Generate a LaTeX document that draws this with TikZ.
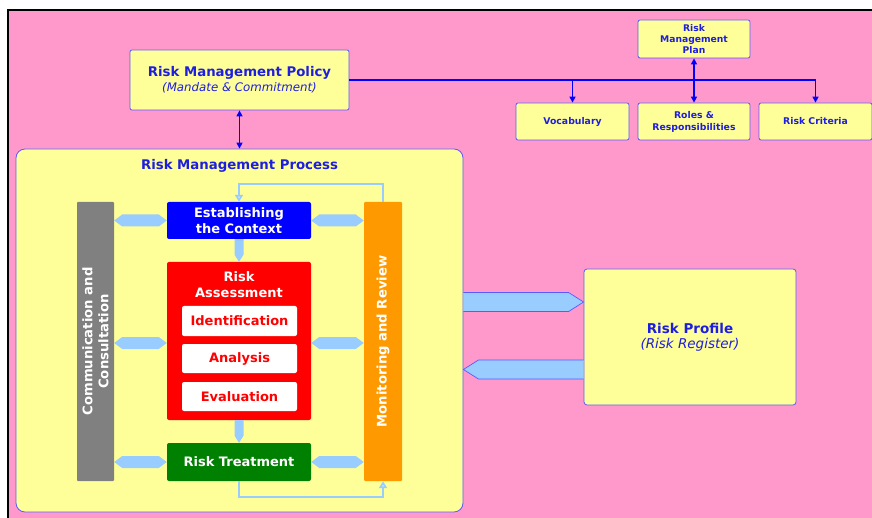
\documentclass[tikz,border=0pt]{standalone}
\usepackage{fontspec}
\setmainfont{DejaVu Sans}
\usetikzlibrary{arrows.meta,calc}
\definecolor{pinkbg}{RGB}{255,153,204}
\definecolor{pyellow}{RGB}{255,255,153}
\definecolor{tblue}{RGB}{30,30,225}
\definecolor{bblue}{RGB}{90,90,255}
\definecolor{lblue}{RGB}{153,204,255}
\definecolor{morange}{RGB}{255,153,0}
\definecolor{cgray}{RGB}{128,128,128}
\definecolor{tgreen}{RGB}{0,128,0}
\definecolor{ablue}{RGB}{0,0,255}
\newcommand\fs[2]{\fontsize{#1}{#2}\selectfont}
\newcommand\hexar[2]{\fill[lblue] (#1) -- ($(#1)+(8,-6)$) -- ($(#2)+(-8,-6)$) -- (#2) -- ($(#2)+(-8,6)$) -- ($(#1)+(8,6)$) -- cycle;}
\newcommand\downar[2]{\fill[lblue] ($(#1)+(-4.5,0)$) -- ($(#2)+(-4.5,-7)$) -- (#2) -- ($(#2)+(4.5,-7)$) -- ($(#1)+(4.5,0)$) -- cycle;}
\begin{document}
\begin{tikzpicture}[x=1pt,y=-1pt,
  ybox/.style={draw=bblue, fill=pyellow, rounded corners=2pt, line width=0.8pt, inner sep=0pt, align=center, text=tblue},
  smallbox/.style={ybox, minimum width=113pt, minimum height=37pt, font=\bfseries\fs{9.3}{12}},
  stepbox/.style={rounded corners=2pt, inner sep=0pt, align=center, text=white, font=\bfseries\fs{13}{16}, minimum width=144pt},
  subbox/.style={fill=white, rounded corners=2pt, inner sep=0pt, text=red, font=\bfseries\fs{13}{16}, minimum width=115pt},
  bar/.style={rounded corners=1pt, inner sep=0pt, minimum width=37pt, minimum height=279pt},
  bartext/.style={rotate=90, text=white, align=center, font=\bfseries\fs{13.2}{16}},
  link/.style={ablue, line width=1.4pt},
  ltip/.tip={Triangle[length=6pt,width=6pt]},
  fb/.style={lblue, line width=2pt, -{Triangle[open,length=7pt,width=8pt,fill=pyellow]}},
  bigar/.style={fill=lblue, draw=bblue, line width=0.7pt}
]
\useasboundingbox (0,0) rectangle (872,518);
% background
\fill[pinkbg] (8,10) rectangle (872,518);
\draw[black, line width=2pt] (8,518) -- (8,10) -- (872,10);

% top part
\node[ybox, minimum width=219pt, minimum height=60pt] (policy) at (239.5,80)
  {{\bfseries\fs{13.3}{16}Risk Management Policy}\\[3pt]{\itshape\fs{11.8}{16}(Mandate \& Commitment)}};
\node[smallbox, minimum width=112pt, minimum height=38pt, font=\bfseries\fs{9.2}{11}] (plan) at (694,39) {Risk\\Management\\Plan};
\node[smallbox] (vocab) at (572.5,121.5) {Vocabulary};
\node[smallbox, minimum width=112pt] (roles) at (694,121.5) {Roles \&\\Responsibilities};
\node[smallbox] (crit) at (815.5,121.5) {Risk Criteria};

\draw[link, -{ltip}] (policy.east) -| (crit.north);
\draw[link, -{ltip}] (vocab.north |- policy.east) -- (vocab.north);
\draw[link, {ltip}-{ltip}] (plan.south) -- (roles.north);

% process box
\node[ybox, rounded corners=9pt, minimum width=447pt, minimum height=363pt] (proc) at (239.5,330.5) {};
\node[text=tblue, font=\bfseries\fs{13.3}{16}] (ptitle) at (239.5,166) {Risk Management Process};
\draw[link, {ltip}-{ltip}] (policy.south) -- (proc.north -| policy.south);

% bars
\node[bar, fill=cgray] (comm) at (95.5,341.5) {};
\node[bartext] (commt) at (comm.center) {Communication and\\Consultation};
\node[bar, fill=morange, minimum width=38pt] (mon) at (383,341.5) {};
\node[bartext] (mont) at (mon.center) {Monitoring and Review};

% steps
\node[stepbox, fill=ablue, minimum height=37pt] (est) at (239,220.5) {Establishing\\the Context};
\node[stepbox, fill=red, minimum height=158pt] (assess) at (239,341) {};
\node[text=white, align=center, font=\bfseries\fs{13}{15.5}] (asst) at (239,284.5) {Risk\\Assessment};
\node[subbox, minimum height=30pt] (ident) at (239.5,321) {Identification};
\node[subbox, minimum height=29pt] (anal) at (239.5,358.5) {Analysis};
\node[subbox, minimum height=29pt] (eval) at (239.5,396.5) {Evaluation};
\node[stepbox, fill=tgreen, minimum height=38pt] (treat) at (239,462) {Risk Treatment};

% hexagonal double arrows
\coordinate (l1) at (comm.east |- est.west);
\coordinate (l2) at (comm.east |- 0,343);
\coordinate (l3) at (comm.east |- treat.west);
\coordinate (m2) at (assess.west |- 0,343);
\coordinate (n2) at (assess.east |- 0,343);
\coordinate (r1) at (mon.west |- est.east);
\coordinate (r2) at (mon.west |- 0,343);
\coordinate (r3) at (mon.west |- treat.east);
\hexar{l1}{est.west}
\hexar{l2}{m2}
\hexar{l3}{treat.west}
\hexar{est.east}{r1}
\hexar{n2}{r2}
\hexar{treat.east}{r3}

% vertical flow arrows
\downar{est.south}{assess.north}
\downar{assess.south}{treat.north}

% feedback lines
\draw[fb] (mon.north) -- ++(0,-18) -| (est.north);
\draw[fb] (treat.south) -- ++(0,16) -| (mon.south);

% risk profile
\node[ybox, rounded corners=3pt, minimum width=212pt, minimum height=136pt] (prof) at (690,337)
  {{\bfseries\fs{13.5}{16}Risk Profile}\\[3pt]{\itshape\fs{13.5}{16}(Risk Register)}};
\coordinate (u1) at ($(prof.west)+(0,-35)$);
\coordinate (u0) at (proc.east |- u1);
\coordinate (w1) at ($(prof.west)+(0,32.5)$);
\coordinate (w0) at (proc.east |- w1);
\path[bigar] ($(u0)+(0,-9.5)$) -- ($(u1)+(-15,-9.5)$) -- (u1) -- ($(u1)+(-15,9.5)$) -- ($(u0)+(0,9.5)$);
\path[bigar] ($(w1)+(0,-9.5)$) -- ($(w0)+(15,-9.5)$) -- (w0) -- ($(w0)+(15,9.5)$) -- ($(w1)+(0,9.5)$);
\end{tikzpicture}
\end{document}
